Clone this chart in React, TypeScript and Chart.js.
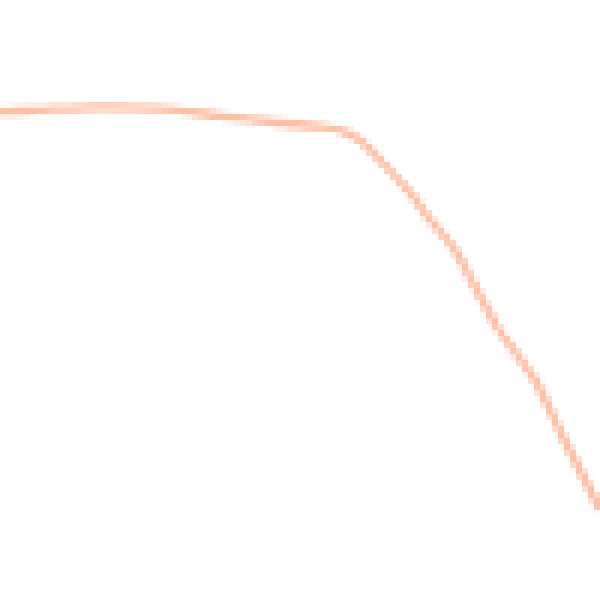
import { useEffect, useRef } from 'react'
import { Chart, registerables } from 'chart.js'

Chart.register(...registerables)

// values (x: 0-600 across, y: 0-600 down)
const xValues = [0, 40, 100, 160, 220, 280, 320, 343, 363, 387, 410, 433, 457, 473, 497, 520, 537, 563, 597, 600]
const yValues = [112, 110, 107, 109, 116, 123, 127, 131, 143, 167, 193, 223, 253, 283, 327, 358, 383, 437, 503, 510]

export default function App() {
  const chartRef = useRef<HTMLCanvasElement>(null)
  const chartInstance = useRef<Chart | null>(null)

  useEffect(() => {
    if (!chartRef.current) return
    if (chartInstance.current) chartInstance.current.destroy()

    chartInstance.current = new Chart(chartRef.current, {
      type: 'line',
      data: {
        datasets: [
          {
            data: xValues.map((x, i) => ({ x, y: yValues[i] })),
            borderColor: '#ffc0a5',
            borderWidth: 8,
            pointRadius: 0,
            tension: 0.2,
            fill: false
          }
        ]
      },
      options: {
        animation: false,
        responsive: true,
        maintainAspectRatio: false,
        devicePixelRatio: 1 / 6,
        layout: { padding: 0 },
        plugins: { legend: { display: false }, tooltip: { enabled: false } },
        scales: {
          x: { type: 'linear', min: 0, max: 600, display: false },
          y: { type: 'linear', min: 0, max: 600, reverse: true, display: false }
        }
      }
    })

    return () => {
      if (chartInstance.current) chartInstance.current.destroy()
    }
  }, [])

  return (
    <div style={{ position: 'fixed', top: 0, left: 0, width: 600, height: 600, background: '#fff' }}>
      <canvas ref={chartRef} style={{ imageRendering: 'pixelated' }} />
    </div>
  )
}
